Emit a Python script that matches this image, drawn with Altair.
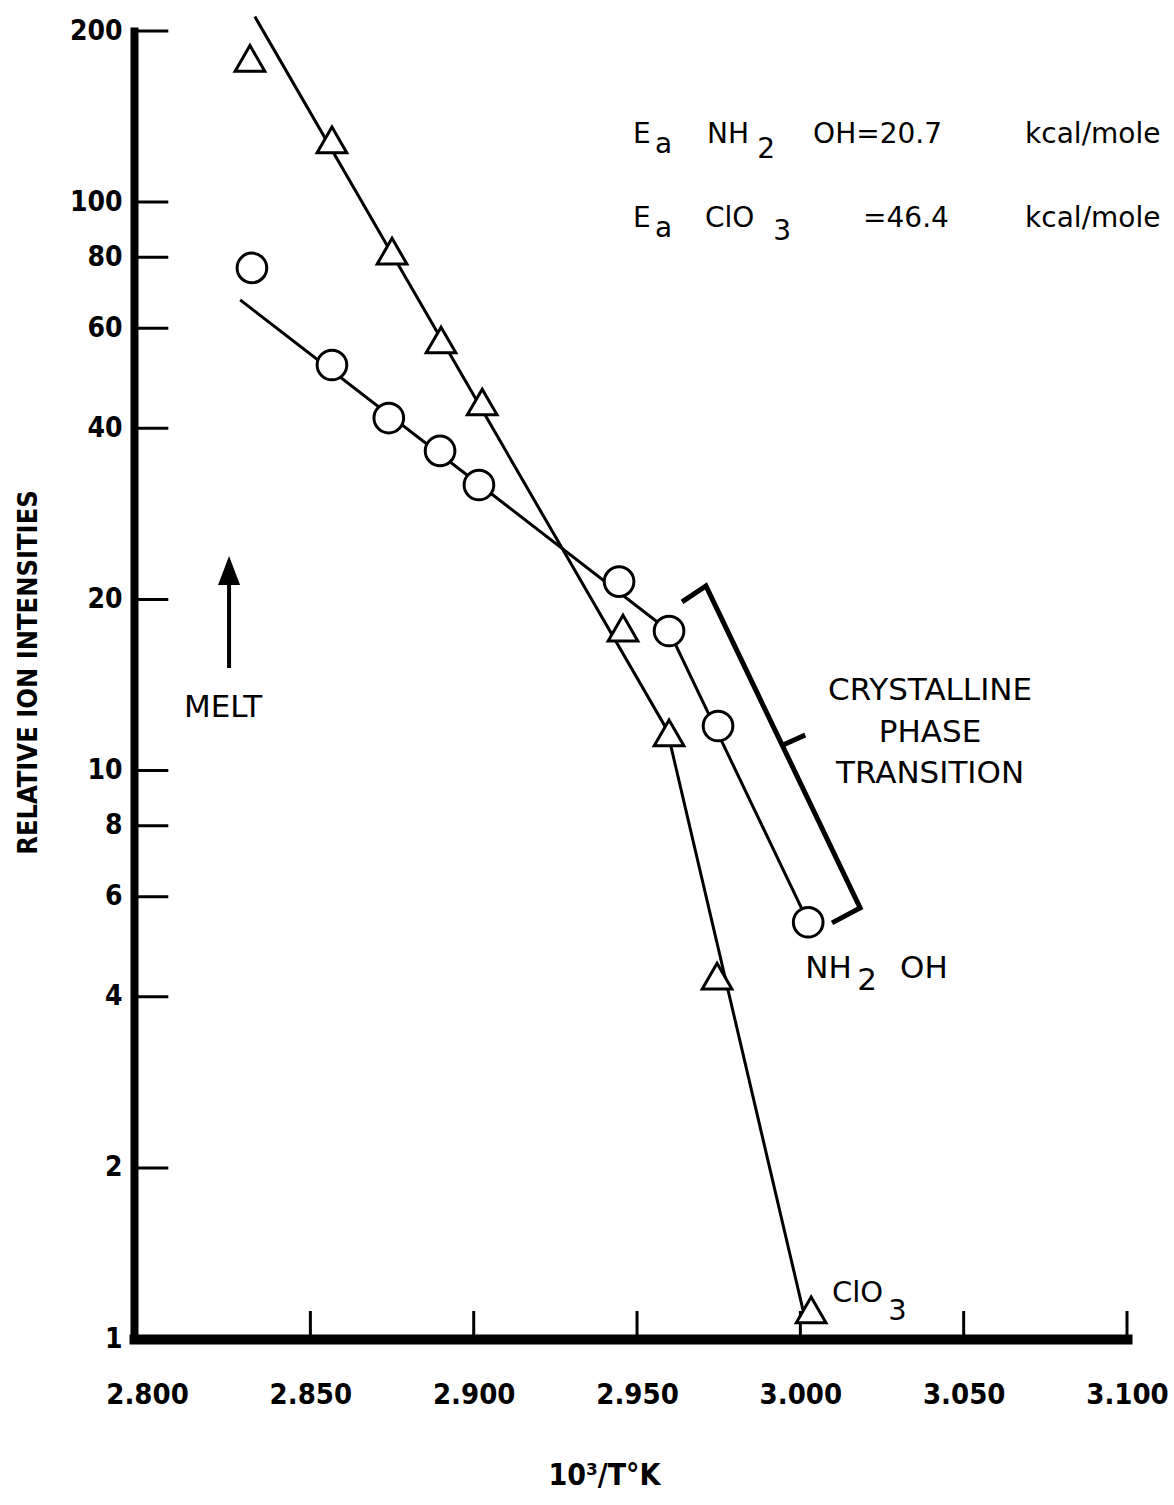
import altair as alt
import pandas as pd

# ---------------- data ----------------
clo3_x = [2.8315, 2.8566, 2.8750, 2.8900, 2.9026, 2.9457, 2.9598, 2.9745, 3.0033]
clo3_y = [179.0, 128.7, 82.0, 57.2, 44.5, 17.8, 11.65, 4.35, 1.125]
nh2oh_x = [2.8321, 2.8566, 2.8740, 2.8897, 2.9016, 2.9445, 2.9598, 2.9748, 3.0024]
nh2oh_y = [76.6, 51.7, 41.7, 36.5, 31.8, 21.5, 17.6, 11.98, 5.41]

clo3_fit_x = [2.8330, 2.9592, 3.0008]
clo3_fit_y = [212.0, 11.79, 1.125]
nh2oh_fit_x = [2.8285, 2.9598, 3.0024]
nh2oh_fit_y = [67.3, 17.6, 5.41]

bracket_x = [2.9638, 2.9711, 3.0183, 3.0097]
bracket_y = [19.80, 21.13, 5.733, 5.395]
bracket_tick_x = [2.9947, 3.0015]
bracket_tick_y = [11.09, 11.55]

melt_x = [2.8251, 2.8251]
melt_y = [15.15, 21.21]
melt_head_x = [2.8251]
melt_head_y = [22.49]

x_ticks = [2.800, 2.850, 2.900, 2.950, 3.000, 3.050, 3.100]
y_ticks = [1, 2, 4, 6, 8, 10, 20, 40, 60, 80, 100, 200]

ann_left_text = ["E", "a", "NH", "2", "OH=20.7", "kcal/mole",
                 "E", "a", "ClO", "3", "=46.4", "kcal/mole",
                 "NH", "2", "OH", "ClO", "3"]
ann_left_x = [2.9488, 2.9555, 2.9714, 2.9868, 3.0039, 3.0688,
              2.9488, 2.9555, 2.9708, 2.9917, 3.0192, 3.0688,
              3.0015, 3.0174, 3.0305, 3.0097, 3.0269]
ann_left_y = [127.1, 122.1, 127.1, 119.6, 127.1, 127.1,
              90.5, 86.9, 90.5, 85.8, 90.5, 90.5,
              4.316, 4.112, 4.316, 1.162, 1.080]
ann_left_fs = [28, 28, 28, 28, 28, 28,
               28, 28, 28, 28, 28, 28,
               31, 31, 31, 29, 29]

ann_center_text = ["CRYSTALLINE", "PHASE", "TRANSITION", "MELT"]
ann_center_x = [3.0397, 3.0397, 3.0397, 2.8233]
ann_center_y = [13.31, 11.23, 9.51, 12.43]

# ---------------- styling ----------------
W, H = 993, 1308
NARROW = "Liberation Sans Narrow, DejaVu Sans Condensed, Arial Narrow, sans-serif"
ANN = "DejaVu Sans, sans-serif"

xs = alt.Scale(domain=[2.796, 3.100], nice=False, zero=False)
ys = alt.Scale(type="log", domain=[1, 200], nice=False)

x_axis = alt.Axis(
    values=x_ticks, format=".3f", grid=False, ticks=False, tickSize=0,
    domain=True, domainColor="black", domainWidth=10, domainCap="square",
    labelFont=NARROW, labelFontSize=29, labelFontWeight="bold", labelColor="black",
    labelPadding=41, labelFlush=False, labelOverlap=False,
    title="10³/T°K", titleFont=NARROW, titleFontSize=30, titleFontWeight="bold",
    titleColor="black", titleX=470, titleY=136, titleAlign="center",
    titleBaseline="middle",
)
y_axis = alt.Axis(
    values=y_ticks, format="d", grid=False, ticks=False, tickSize=0,
    domain=True, domainColor="black", domainWidth=8, domainCap="square",
    labelFont=NARROW, labelFontSize=28, labelFontWeight="bold", labelColor="black",
    labelPadding=12, labelOverlap=False,
    title="RELATIVE ION INTENSITIES", titleFont=NARROW, titleFontSize=27,
    titleFontWeight="bold", titleColor="black", titleX=-106, titleY=641,
    titleAlign="center", titleBaseline="middle", titleAngle=270,
)

def X(field):
    return alt.X(field, type="quantitative", scale=xs, axis=x_axis)

def Y(field):
    return alt.Y(field, type="quantitative", scale=ys, axis=y_axis)

# ---------------- frames ----------------
df_clo3 = pd.DataFrame({"x": clo3_x, "y": clo3_y})
df_nh = pd.DataFrame({"x": nh2oh_x, "y": nh2oh_y})
df_clo3_fit = pd.DataFrame({"x": clo3_fit_x, "y": clo3_fit_y, "i": range(len(clo3_fit_x))})
df_nh_fit = pd.DataFrame({"x": nh2oh_fit_x, "y": nh2oh_fit_y, "i": range(len(nh2oh_fit_x))})
df_br = pd.DataFrame({"x": bracket_x, "y": bracket_y, "i": range(len(bracket_x))})
df_brt = pd.DataFrame({"x": bracket_tick_x, "y": bracket_tick_y, "i": range(2)})
df_melt = pd.DataFrame({"x": melt_x, "y": melt_y, "i": range(2)})
df_head = pd.DataFrame({"x": melt_head_x, "y": melt_head_y})
df_yt = pd.DataFrame({"v": y_ticks[1:]})
df_xt = pd.DataFrame({"v": x_ticks[1:]})
df_al = pd.DataFrame({"t": ann_left_text, "x": ann_left_x, "y": ann_left_y, "fs": ann_left_fs})
df_ac = pd.DataFrame({"t": ann_center_text, "x": ann_center_x, "y": ann_center_y})

# ---------------- layers ----------------
y_tick_rules = alt.Chart(df_yt).mark_rule(color="black", strokeWidth=3).encode(
    y=Y("v"),
    x=alt.XDatum(2.796, type="quantitative", scale=xs, axis=x_axis),
    x2=alt.X2Datum(2.8065),
)
x_tick_rules = alt.Chart(df_xt).mark_rule(color="black", strokeWidth=3).encode(
    x=X("v"),
    y=alt.YDatum(1, type="quantitative", scale=ys, axis=y_axis),
    y2=alt.Y2Datum(1.12),
)

line_style = dict(color="black", strokeWidth=3)
clo3_line = alt.Chart(df_clo3_fit).mark_line(**line_style).encode(
    x=X("x"), y=Y("y"), order="i:Q")
nh_line = alt.Chart(df_nh_fit).mark_line(**line_style).encode(
    x=X("x"), y=Y("y"), order="i:Q")
bracket = alt.Chart(df_br).mark_line(color="black", strokeWidth=5, strokeJoin="miter").encode(
    x=X("x"), y=Y("y"), order="i:Q")
bracket_tick = alt.Chart(df_brt).mark_line(color="black", strokeWidth=5).encode(
    x=X("x"), y=Y("y"), order="i:Q")
melt_shaft = alt.Chart(df_melt).mark_line(color="black", strokeWidth=4).encode(
    x=X("x"), y=Y("y"), order="i:Q")
melt_head = alt.Chart(df_head).mark_point(
    shape="M0,-1L0.76,1L-0.76,1Z", size=841, filled=True, color="black", opacity=1
).encode(x=X("x"), y=Y("y"))

tri = alt.Chart(df_clo3).mark_point(
    shape="triangle-up", size=880, filled=True, fill="white", stroke="black",
    strokeWidth=3, opacity=1, fillOpacity=1, strokeOpacity=1
).encode(x=X("x"), y=Y("y"))
circ = alt.Chart(df_nh).mark_point(
    shape="circle", size=880, filled=True, fill="white", stroke="black",
    strokeWidth=3, opacity=1, fillOpacity=1, strokeOpacity=1
).encode(x=X("x"), y=Y("y"))

txt_left = alt.Chart(df_al).mark_text(
    align="left", baseline="alphabetic", font=ANN, color="black"
).encode(x=X("x"), y=Y("y"), text="t:N", size=alt.Size("fs:Q", scale=None, legend=None))
txt_center = alt.Chart(df_ac).mark_text(
    align="center", baseline="alphabetic", font=ANN, color="black", fontSize=31
).encode(x=X("x"), y=Y("y"), text="t:N")

chart = alt.layer(
    y_tick_rules, x_tick_rules, clo3_line, nh_line, bracket, bracket_tick,
    melt_shaft, melt_head, tri, circ, txt_left, txt_center
).properties(
    width=W, height=H,
    autosize=alt.AutoSizeParams(type="none"),
    padding={"left": 134, "top": 31, "right": 47, "bottom": 166},
    background="white",
).configure_view(strokeWidth=0)

chart.save("out.html", embed_options={"renderer": "svg", "actions": False})
